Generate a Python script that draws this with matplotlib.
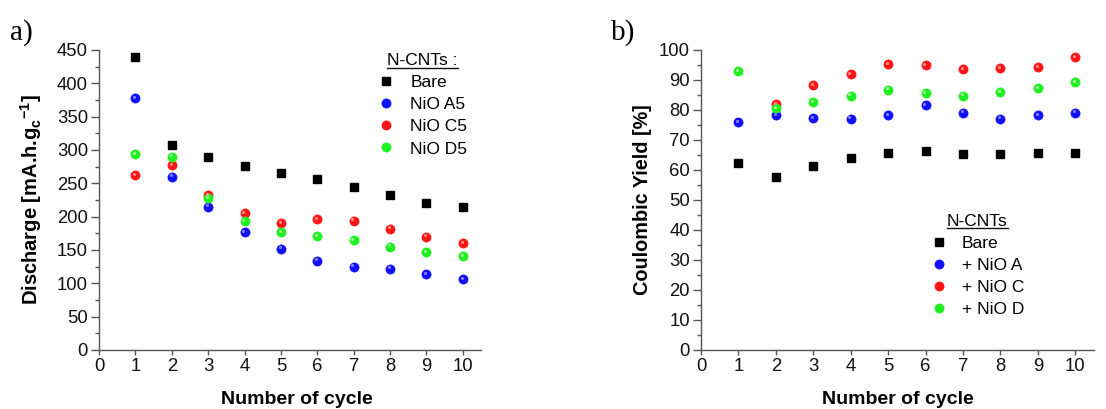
import numpy as np
import matplotlib
matplotlib.use("Agg")
import matplotlib.pyplot as plt
from matplotlib.lines import Line2D
from matplotlib.transforms import ScaledTranslation

plt.rcParams['font.family'] = ['Liberation Sans', 'DejaVu Sans']

cycles = [1, 2, 3, 4, 5, 6, 7, 8, 9, 10]

# Panel a) discharge capacity [mA.h.g_c^-1]
dis_bare = [440, 307, 290, 276, 266, 257, 244, 232, 221, 214]
dis_a5 = [378, 260, 215, 177, 152, 134, 125, 122, 114, 106]
dis_c5 = [262, 277, 232, 205, 190, 196, 194, 182, 170, 160]
dis_d5 = [294, 290, 228, 193, 177, 171, 165, 155, 147, 141]
labels_a = ["Bare", "NiO A5", "NiO C5", "NiO D5"]

# Panel b) coulombic yield [%]
cy_bare = [62.2, 57.7, 61.4, 63.9, 65.6, 66.4, 65.4, 65.3, 65.8, 65.6]
cy_a = [76.0, 78.2, 77.4, 77.1, 78.2, 81.7, 79.1, 77.1, 78.2, 79.1]
cy_c = [np.nan, 81.9, 88.3, 91.9, 95.3, 95.0, 93.6, 93.9, 94.2, 97.6]
cy_d = [93.0, 80.6, 82.6, 84.8, 86.8, 85.7, 84.8, 85.9, 87.3, 89.3]
labels_b = ["Bare", "+ NiO A", "+ NiO C", "+ NiO D"]

colors = ["#000000", "#1010ff", "#ff1515", "#20f020"]
highlights = [None, "#9090ff", "#ff9a9a", "#a8ffa8"]
axis_col = "#555555"

fig = plt.figure(figsize=(11.06, 4.09), dpi=100)
W, H = 1106, 409
axA = fig.add_axes([99 / W, 1 - 350 / H, (481 - 99) / W, 300 / H])
axB = fig.add_axes([701 / W, 1 - 350 / H, (1094 - 701) / W, 300 / H])


def draw(ax, series, labels, ymax, ymajor, yminor):
    handles = []
    for i, (vals, lab) in enumerate(zip(series, labels)):
        if i == 0:
            h, = ax.plot(cycles, vals, 's', ms=5.2, color=colors[i], mec=colors[i],
                         ls='none', label=lab, zorder=3)
        else:
            h, = ax.plot(cycles, vals, 'o', ms=6.6, color=colors[i], mec=colors[i],
                         mew=0.5, ls='none', label=lab, zorder=3)
            off = ScaledTranslation(-0.9 / 72, 0.9 / 72, fig.dpi_scale_trans)
            ax.plot(cycles, vals, 'o', ms=2.2, color=highlights[i], mew=0,
                    ls='none', alpha=0.9, zorder=4, transform=ax.transData + off)
        handles.append(h)
    ax.set_xlim(0, 10.5)
    ax.set_ylim(0, ymax)
    ax.set_xticks(range(0, 11))
    ax.set_yticks(np.arange(0, ymax + 0.1, ymajor))
    ax.set_yticks(np.arange(0, ymax + 0.1, yminor), minor=True)
    for s in ['top', 'right']:
        ax.spines[s].set_visible(False)
    for s in ['left', 'bottom']:
        ax.spines[s].set_color(axis_col)
        ax.spines[s].set_linewidth(1.0)
    ax.tick_params(axis='y', which='major', direction='out', length=5.5, width=1,
                   color=axis_col, labelsize=13.3, pad=2.5, labelcolor='#111111')
    ax.tick_params(axis='y', which='minor', direction='out', length=3, width=1,
                   color=axis_col)
    ax.tick_params(axis='x', which='major', direction='out', length=3.5, width=1,
                   color=axis_col, labelsize=13.3, pad=2, labelcolor='#111111')
    ax.set_xlabel("Number of cycle", fontsize=14, fontweight='bold', labelpad=13)
    return handles


hA = draw(axA, [dis_bare, dis_a5, dis_c5, dis_d5], labels_a, 450, 50, 25)
hB = draw(axB, [cy_bare, cy_a, cy_c, cy_d], labels_b, 100, 10, 5)
axA.xaxis.set_label_coords(0.518, -0.135)
axB.xaxis.set_label_coords(0.5, -0.135)

axA.set_ylabel(r"Discharge [mA.h.g$_\mathregular{c}$$^\mathregular{-1}$]",
               fontsize=14.5, fontweight='bold', labelpad=9)
axB.set_ylabel("Coulombic Yield [%]", fontsize=14.3, fontweight='bold', labelpad=5)

legA = axA.legend(handles=hA, title="N-CNTs :", loc='upper left',
                  bbox_to_anchor=(0.697, 1.03), frameon=False, fontsize=12.5,
                  title_fontsize=12.5, labelspacing=0.4, handletextpad=0.9,
                  handlelength=1.0, borderpad=0.2)
legB = axB.legend(handles=hB, title="N-CNTs", loc='upper left',
                  bbox_to_anchor=(0.553, 0.495), frameon=False, fontsize=12.5,
                  title_fontsize=12.5, labelspacing=0.4, handletextpad=0.8,
                  handlelength=1.0, borderpad=0.2)

fig.text(10 / W, 1 - 40 / H, "a)", fontsize=21, family='Liberation Serif')
fig.text(611 / W, 1 - 40 / H, "b)", fontsize=21, family='Liberation Serif')

# underline legend titles
fig.canvas.draw()
rend = fig.canvas.get_renderer()
for leg in (legA, legB):
    bb = leg.get_title().get_window_extent(rend)
    y = bb.y0 + 0.5
    fig.add_artist(Line2D([bb.x0 / W, bb.x1 / W], [y / H, y / H],
                          transform=fig.transFigure, color='#111111', lw=1.0))

fig.savefig("out.png", dpi=100)
